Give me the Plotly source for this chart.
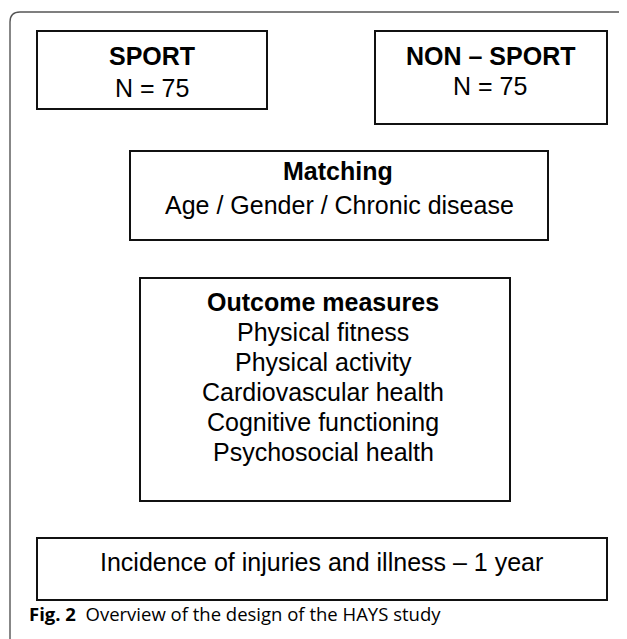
import plotly.graph_objects as go

W, H = 627, 639
PAD = 8  # default page body margin offset

# Box texts
sport_title = "SPORT"
sport_n = "N = 75"
nonsport_title = "NON – SPORT"
nonsport_n = "N = 75"
matching_title = "Matching"
matching_items = "Age / Gender / Chronic disease"
outcome_title = "Outcome measures"
outcome_items = ["Physical fitness", "Physical activity", "Cardiovascular health",
                 "Cognitive functioning", "Psychosocial health"]
incidence_text = "Incidence of injuries and illness – 1 year"
caption_bold = "Fig. 2"
caption_text = "Overview of the design of the HAYS study"

# Box geometry (page pixels, y downward)
boxes = [
    (37, 31, 267, 109),
    (375, 31, 607, 124),
    (130, 151, 548, 240),
    (140, 278, 510, 501),
    (37, 538, 607, 600),
]

FONT = "Liberation Sans, Arial, sans-serif"
FS = 25

fig = go.Figure()
fig.add_trace(go.Scatter(x=[PAD, W], y=[PAD, H], mode="markers", marker=dict(opacity=0),
                         hoverinfo="skip", showlegend=False))

shapes = []
shapes.append(dict(type="path", xref="x", yref="y",
                   path=f"M 10 {H} L 10 22 Q 10 12 20 12 L {W} 12",
                   line=dict(color="#555555", width=1.4)))
for (x0, y0, x1, y1) in boxes:
    shapes.append(dict(type="rect", xref="x", yref="y", x0=x0, y0=y0, x1=x1, y1=y1,
                       line=dict(color="#111111", width=2), fillcolor="rgba(0,0,0,0)"))

ann = []
def txt(x, baseline, s, bold=False, size=FS, anchor="center", family=FONT):
    ann.append(dict(x=x, y=baseline - 0.34 * size, xref="x", yref="y",
                    text=f"<b>{s}</b>" if bold else s, showarrow=False,
                    xanchor=anchor, yanchor="middle",
                    font=dict(family=family, size=size, color="#000000")))

txt(152, 64, sport_title, bold=True)
txt(152, 96, sport_n)
txt(490, 64, nonsport_title, bold=True)
txt(490, 94, nonsport_n)
txt(338, 179, matching_title, bold=True)
txt(339, 213, matching_items)
txt(323, 310, outcome_title, bold=True)
for i, s in enumerate(outcome_items):
    txt(323, 340 + 30 * i, s)
txt(321, 570, incidence_text)

ann.append(dict(x=27, y=620 - 0.34 * 18.5, xref="x", yref="y", xanchor="left", yanchor="middle",
                text=f"<b>{caption_bold}</b>  {caption_text}", showarrow=False,
                font=dict(family="Open Sans, sans-serif", size=18.5, color="#000000")))

fig.update_layout(
    width=W - PAD, height=H - PAD, margin=dict(l=0, r=0, t=0, b=0),
    paper_bgcolor="white", plot_bgcolor="white",
    xaxis=dict(range=[PAD, W], visible=False, fixedrange=True),
    yaxis=dict(range=[H, PAD], visible=False, fixedrange=True),
    shapes=shapes, annotations=ann, showlegend=False,
)
fig.write_html("out.html")
